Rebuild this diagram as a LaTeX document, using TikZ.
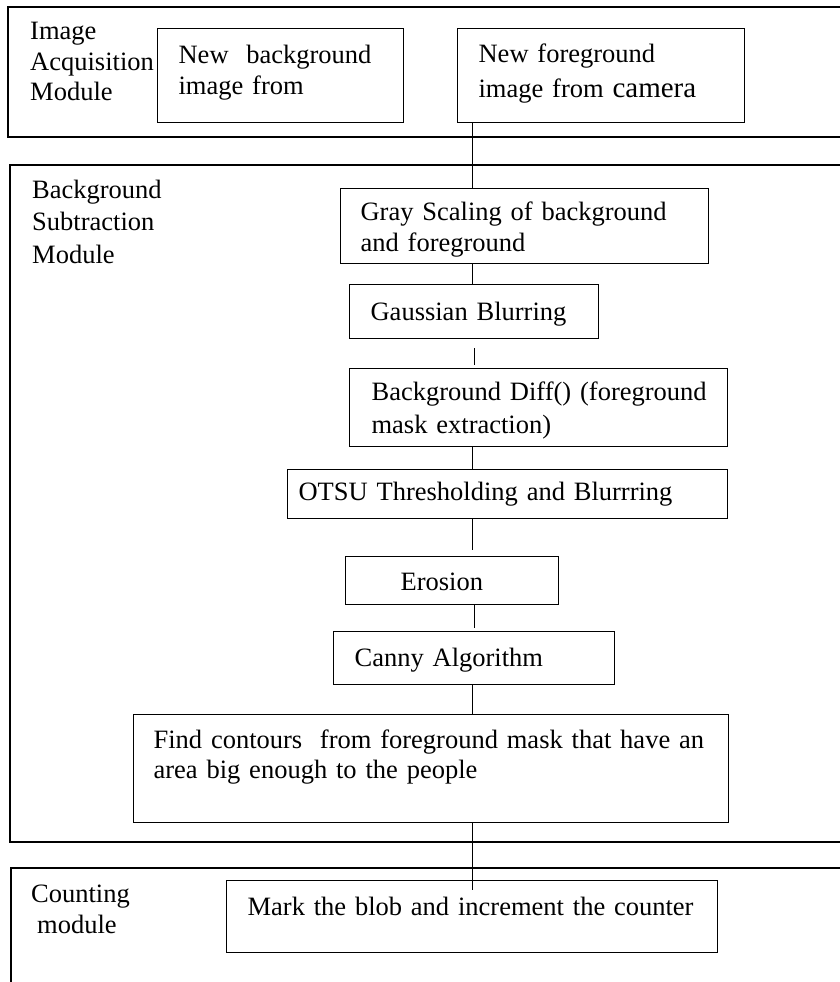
\documentclass[tikz,border=0pt]{standalone}
\usepackage{fontspec}
\setmainfont{Liberation Serif}

\begin{document}
\begin{tikzpicture}[x=1pt,y=-1pt,font=\fontsize{26.5}{31}\selectfont,
    stepbox/.style={draw,line width=1.2pt,anchor=north west,align=left,inner ysep=0pt},
    modlabel/.style={anchor=base west,align=left,inner sep=0pt,text width=150pt},
    link/.style={line width=1pt}]
    \useasboundingbox (0,0) rectangle (839,982);
    \draw[line width=1.2pt] (8,7) rectangle (860,137);
    \draw[line width=1.2pt] (10,165) rectangle (860,842);
    \draw[line width=1.2pt] (11,868) rectangle (860,1000);
    \node[modlabel,font=\fontsize{26.5}{30.5}\selectfont] (acq) at (30,40) {Image\\Acquisition\\Module};
    \node[modlabel,font=\fontsize{26.5}{32.5}\selectfont] (bgsub) at (32,198) {Background\\Subtraction\\Module};
    \node[modlabel] (count) at (31,902) {Counting\\\hspace*{6pt}module};
    \node[stepbox,inner xsep=21pt,text width=204pt,text height=35pt,text depth=59pt] (bgimg) at (157,28) {New \ background\\image from};
    \node[stepbox,inner xsep=21pt,text width=245pt,text height=34pt,text depth=60pt] (fgimg) at (457,28) {New foreground\\[4pt]image from {\fontsize{29}{31}\selectfont camera}};
    \node[stepbox,inner xsep=20pt,text width=328pt,text height=32pt,text depth=43pt] (gray) at (340,188) {Gray Scaling of background\\and foreground};
    \node[stepbox,inner xsep=21pt,text width=207pt,text height=36pt,text depth=18pt] (gauss) at (349,284) {Gaussian Blurring};
    \node[stepbox,inner xsep=22pt,text width=334pt,text height=32pt,text depth=46pt,font=\fontsize{26.5}{33}\selectfont] (diff) at (349,368) {\mbox{Background Diff() (foreground}\\mask extraction)};
    \node[stepbox,inner xsep=11pt,text width=418pt,text height=31pt,text depth=18pt] (otsu) at (287,469) {OTSU Thresholding and Blurrring};
    \node[stepbox,inner xsep=55pt,text width=103pt,text height=34pt,text depth=14pt] (erosion) at (345,556) {Erosion};
    \node[stepbox,inner xsep=21pt,text width=239pt,text height=35pt,text depth=18pt] (canny) at (333,631) {Canny Algorithm};
    \node[stepbox,inner xsep=20pt,text width=555pt,text height=34pt,text depth=74pt,font=\fontsize{26.5}{30}\selectfont] (find) at (133,714) {\mbox{Find contours \ from foreground mask that have an}\\area big enough to the people};
    \node[stepbox,inner xsep=21pt,text width=449pt,text height=35pt,text depth=37pt] (mark) at (226,880) {Mark the blob and increment the counter};
    \coordinate (spine) at (472,0);
    \draw[link] (fgimg.south -| spine) -- (gray.north -| spine);
    \draw[link] (gray.south -| spine) -- (gauss.north -| spine);
    \draw[link,shorten <=9pt,shorten >=3pt] ([xshift=2pt]gauss.south -| spine) -- ([xshift=2pt]diff.north -| spine);
    \draw[link] (diff.south -| spine) -- (otsu.north -| spine);
    \draw[link,shorten >=6pt] (otsu.south -| spine) -- (erosion.north -| spine);
    \draw[link,shorten >=3pt] ([xshift=2pt]erosion.south -| spine) -- ([xshift=2pt]canny.north -| spine);
    \draw[link] (canny.south -| spine) -- (find.north -| spine);
    \draw[link,shorten >=-10pt] (find.south -| spine) -- (mark.north -| spine);
\end{tikzpicture}
\end{document}
